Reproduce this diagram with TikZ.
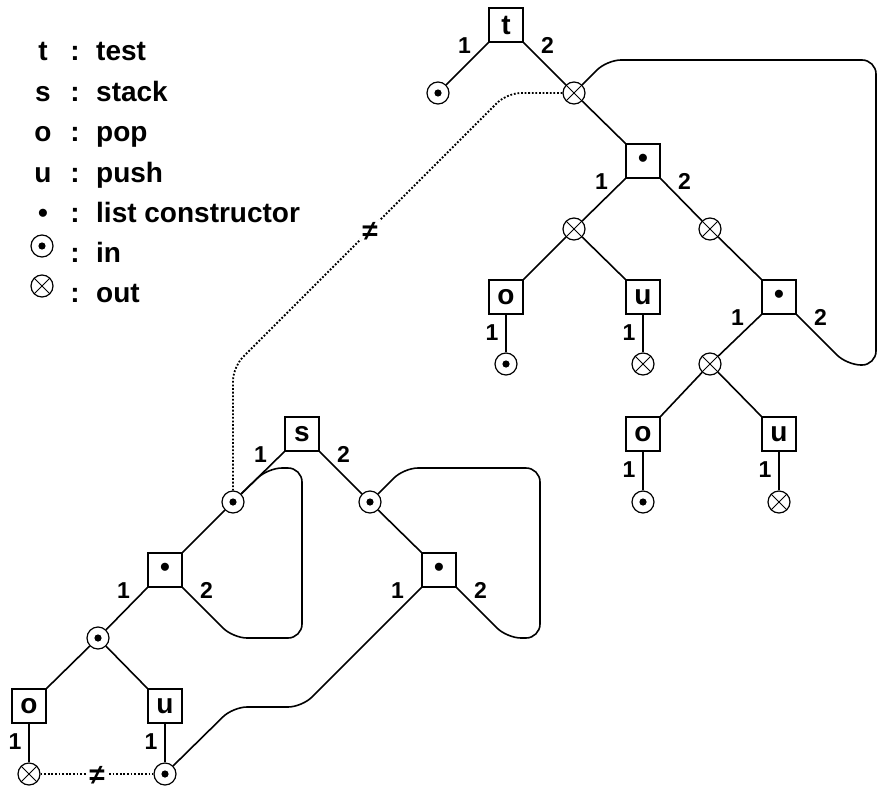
\documentclass[tikz,border=0pt]{standalone}
\usepackage{fontspec}
\setmainfont{Liberation Sans}
\usetikzlibrary{calc}

\begin{document}
\begin{tikzpicture}[x=1pt,y=-1pt,
  op/.style={draw, rectangle, minimum size=34pt, inner sep=0pt, line width=1.2pt,
    font=\fontsize{28}{28}\selectfont\bfseries},
  pin/.style={draw, circle, minimum size=22pt, inner sep=0pt, line width=1.2pt, fill=white,
    path picture={\fill[black] (path picture bounding box.center) circle (3.6pt);}},
  pout/.style={draw, circle, minimum size=22pt, inner sep=0pt, line width=1.2pt, fill=white,
    path picture={\draw[black, line width=1pt]
      (path picture bounding box.south west) -- (path picture bounding box.north east)
      (path picture bounding box.north west) -- (path picture bounding box.south east);}},
  port/.style={font=\fontsize{23}{23}\selectfont\bfseries, inner sep=0pt},
  leg/.style={font=\fontsize{28}{28}\selectfont\bfseries, inner sep=0pt},
  wire/.style={line width=1.6pt},
  loopwire/.style={line width=1.6pt, rounded corners=14pt},
  neqwire/.style={line width=1.8pt, dash pattern=on 1.8pt off 1.8pt, rounded corners=14pt},
  neqsign/.style={fill=white, inner xsep=2pt, inner ysep=0pt, text height=20pt, text depth=0pt,
    font=\fontsize{28}{28}\selectfont\bfseries}
]
\useasboundingbox (0,0) rectangle (878,787);

% ---- legend ----
\node[leg, anchor=base] (kt) at (43,60) {t};
\node[leg, anchor=base] (kts) at (75,60) {:};
\node[leg, anchor=base west] (ktw) at (96,60) {test};
\node[leg, anchor=base] (ks) at (43,101) {s};
\node[leg, anchor=base] (kss) at (75,101) {:};
\node[leg, anchor=base west] (ksw) at (96,101) {stack};
\node[leg, anchor=base] (ko) at (43,141) {o};
\node[leg, anchor=base] (kos) at (75,141) {:};
\node[leg, anchor=base west] (kow) at (96,141) {pop};
\node[leg, anchor=base] (ku) at (43,182) {u};
\node[leg, anchor=base] (kus) at (75,182) {:};
\node[leg, anchor=base west] (kuw) at (96,182) {push};
\node[leg, anchor=base] (kb) at (43,222) {•};
\node[leg, anchor=base] (kbs) at (75,222) {:};
\node[leg, anchor=base west] (kbw) at (96,222) {list constructor};
\node[pin] (ki) at (42,246) {};
\node[leg, anchor=base] (kis) at (75,262) {:};
\node[leg, anchor=base west] (kiw) at (96,262) {in};
\node[pout] (kx) at (42,286) {};
\node[leg, anchor=base] (kxs) at (75,302) {:};
\node[leg, anchor=base west] (kxw) at (96,302) {out};

% ---- test tree ----
\node[op] (t) at (506,25) {t};
\node[pin] (i1) at (438,93) {};
\node[pout] (x1) at (574,93) {};
\node[op] (b1) at (643,161) {•};
\node[pout] (x2) at (574,229) {};
\node[pout] (x4) at (710,229) {};
\node[op] (o1) at (506,297) {o};
\node[op] (u1) at (643,297) {u};
\node[op] (b2) at (779,297) {•};
\node[pin] (i2) at (506,364) {};
\node[pout] (x3) at (643,364) {};
\node[pout] (x5) at (710,364) {};
\node[op] (o2) at (643,434) {o};
\node[op] (u2) at (779,434) {u};
\node[pin] (i3) at (643,502) {};
\node[pout] (x6) at (779,502) {};

% ---- stack tree ----
\node[op] (s) at (302,434) {s};
\node[pin] (i4) at (233,502) {};
\node[pin] (i6) at (370,502) {};
\node[op] (b4) at (165,570) {•};
\node[op] (b3) at (439,570) {•};
\node[pin] (i7) at (98,638) {};
\node[op] (o3) at (29,706) {o};
\node[op] (u3) at (165,706) {u};
\node[pout] (x7) at (29,774) {};
\node[pin] (i5) at (165,774) {};

% ---- edges of the test tree ----
\draw[wire] (t.south west) -- (i1);
\draw[wire] (t.south east) -- (x1);
\draw[wire] (x1) -- (b1.north west);
\draw[wire] (b1.south west) -- (x2);
\draw[wire] (x2) -- (o1.north east);
\draw[wire] (x2) -- (u1.north west);
\draw[wire] (o1.south) -- (i2);
\draw[wire] (u1.south) -- (x3);
\draw[wire] (b1.south east) -- (x4);
\draw[wire] (x4) -- (b2.north west);
\draw[wire] (b2.south west) -- (x5);
\draw[wire] (x5) -- (o2.north east);
\draw[wire] (x5) -- (u2.north west);
\draw[wire] (o2.south) -- (i3);
\draw[wire] (u2.south) -- (x6);
\draw[loopwire] (x1.north east) -- (607,60) -- (876,60) -- (876,365) -- (847,365) -- (b2.south east);

% ---- edges of the stack tree ----
\draw[wire] (s.south west) -- (i4);
\draw[wire] (i4) -- (b4.north east);
\draw[wire] (b4.south west) -- (i7);
\draw[wire] (i7) -- (o3.north east);
\draw[wire] (i7) -- (u3.north west);
\draw[wire] (o3.south) -- (x7);
\draw[wire] (u3.south) -- (i5);
\draw[wire] (s.south east) -- (i6);
\draw[wire] (i6) -- (b3.north west);
\draw[loopwire] (i4.north east) -- (268,468) -- (302,468) -- (302,638) -- (233,638) -- (b4.south east);
\draw[loopwire] (i6.north east) -- (404,468) -- (540,468) -- (540,638) -- (507,638) -- (b3.south east);
\draw[loopwire] (b3.south west) -- (302,707) -- (233,707) -- (i5.north east);

% ---- inequality constraints ----
\draw[neqwire] (x1.west) -- (507,93) -- (233,367) -- (i4.north);
\node[neqsign] (n1) at (370,230) {≠};
\draw[neqwire] (x7) -- (i5);
\node[neqsign] (n2) at (97,774) {≠};

% ---- port numbers ----
\node[port] (pt1) at ($(t.south west)+(-24,3)$) {1};
\node[port] (pt2) at ($(t.south east)+(24,3)$) {2};
\node[port] (pb11) at ($(b1.south west)+(-24,3)$) {1};
\node[port] (pb12) at ($(b1.south east)+(24,3)$) {2};
\node[port] (pb21) at ($(b2.south west)+(-24,3)$) {1};
\node[port] (pb22) at ($(b2.south east)+(24,3)$) {2};
\node[port] (ps1) at ($(s.south west)+(-24,3)$) {1};
\node[port] (ps2) at ($(s.south east)+(24,3)$) {2};
\node[port] (pb31) at ($(b3.south west)+(-24,3)$) {1};
\node[port] (pb32) at ($(b3.south east)+(24,3)$) {2};
\node[port] (pb41) at ($(b4.south west)+(-24,3)$) {1};
\node[port] (pb42) at ($(b4.south east)+(24,3)$) {2};
\node[port] (po1) at ($(o1.south)+(-14,18)$) {1};
\node[port] (pu1) at ($(u1.south)+(-14,18)$) {1};
\node[port] (po2) at ($(o2.south)+(-14,18)$) {1};
\node[port] (pu2) at ($(u2.south)+(-14,18)$) {1};
\node[port] (po3) at ($(o3.south)+(-14,18)$) {1};
\node[port] (pu3) at ($(u3.south)+(-14,18)$) {1};
\end{tikzpicture}
\end{document}
